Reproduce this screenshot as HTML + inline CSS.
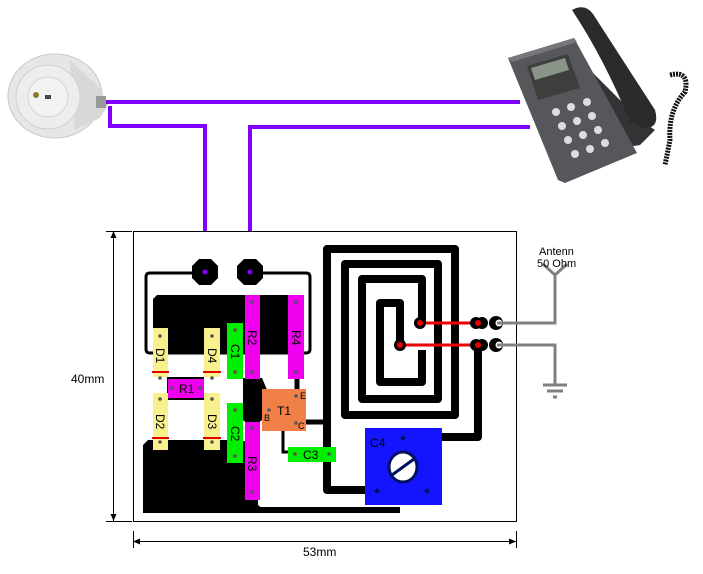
<!DOCTYPE html>
<html><head><meta charset="utf-8"><style>
html,body{margin:0;padding:0;background:#fff;}
svg{display:block;}
text{font-family:"Liberation Sans",sans-serif;}
</style></head><body>
<svg width="703" height="574" viewBox="0 0 703 574" xmlns="http://www.w3.org/2000/svg">
<rect width="703" height="574" fill="#fff"/>
<!-- socket -->
<ellipse cx="55" cy="96" rx="47" ry="42" fill="#e6e6e6" stroke="#c8c8c8"/>
<path d="M70 60 L100 88 L108 105 L100 118 L75 130 Z" fill="#d8d8d8"/>
<circle cx="48" cy="97" r="32" fill="#ededed" stroke="#d0d0d0"/>
<circle cx="48" cy="97" r="20" fill="#f2f2f2" stroke="#d4d4d4"/>
<circle cx="36" cy="95" r="3" fill="#887a30"/>
<rect x="45" y="95" width="6" height="4" fill="#444"/>
<rect x="96" y="96" width="10" height="12" fill="#999"/>
<!-- phone -->
<path d="M590 70 L640 120 L655 130 L640 145 L610 150 Z" fill="#333336"/>
<path d="M508 58 L574 38 L637 153 L565 183 L558 180 Z" fill="#56575b"/>
<path d="M508 58 L574 38 L577 42 L512 62 Z" fill="#77787c"/>
<path d="M527 66 L568 54 L580 88 L538 100 Z" fill="#3c3f3c"/>
<path d="M531 68 L565 58 L569 70 L535 80 Z" fill="#8a958a"/>
<path d="M572 10 Q585 3 593 14 L655 110 Q660 128 645 128 L630 122 Q605 60 572 10 Z" fill="#2b2b2e"/>
<path d="M670 75 Q690 70 685 92 Q668 110 670 140 L665 165" stroke="#111" stroke-width="5" fill="none" stroke-dasharray="2 1"/>
<g fill="#ddd"><circle cx="556" cy="112" r="4"/><circle cx="571" cy="107" r="4"/><circle cx="587" cy="102" r="4"/><circle cx="562" cy="126" r="4"/><circle cx="577" cy="121" r="4"/><circle cx="592" cy="116" r="4"/><circle cx="568" cy="140" r="4"/><circle cx="583" cy="135" r="4"/><circle cx="598" cy="130" r="4"/><circle cx="575" cy="154" r="4"/><circle cx="590" cy="149" r="4"/><circle cx="605" cy="143" r="4"/></g>
<!-- purple wires -->
<g stroke="#8000ff" stroke-width="4" fill="none">
<path d="M106 102 L520 102"/>
<path d="M110 106 L110 126 L205 126 L205 272"/>
<path d="M250 272 L250 127 L530 127"/>
</g>
<!-- dimensions -->
<g stroke="#000" stroke-width="1" fill="none">
<path d="M113.5 231 L113.5 521 M106 231.5 L132 231.5 M106 521.5 L132 521.5"/>
<path d="M133.5 531 L133.5 548 M516.5 531 L516.5 548 M133 541.5 L516 541.5"/>
</g>
<path d="M113.5 231 l-3 7 h6z M113.5 521 l-3 -7 h6z M133 541.5 l7 -3 v6z M516 541.5 l-7 -3 v6z" fill="#000"/>
<text x="71" y="383" font-size="12">40mm</text>
<text x="303" y="556" font-size="12">53mm</text>
<!-- board -->
<rect x="133.5" y="231.5" width="383" height="290" fill="#fff" stroke="#000"/>
<!-- thin loop -->
<path d="M205 273 L150 273 Q146 273 146 277 L146 349 Q146 353 150 353 L306 353 Q310 353 310 349 L310 277 Q310 273 306 273 L250 273" stroke="#000" stroke-width="3" fill="none"/>
<!-- big blocks -->
<path d="M157 295 L300 295 L300 352 L153 352 L153 299 Z" fill="#000"/>
<path d="M148 440 L240 440 L258 445 L258 505 L268 513 L143 513 L143 445 Z" fill="#000"/>
<path d="M240 510 L400 510" stroke="#000" stroke-width="6"/>
<path d="M167 377 L204 377 L204 400 L167 400 Z" fill="#000"/>
<path d="M243 378 L262 378 L268 392 L262 420 L252 428 L243 420 Z" fill="#000"/>
<path d="M297 379 L297 390" stroke="#000" stroke-width="5"/>
<path d="M283 431 L283 452 L290 452" stroke="#000" stroke-width="3" fill="none"/>
<path d="M305 422 L327 422" stroke="#000" stroke-width="5"/>
<!-- spiral -->
<g stroke="#000" stroke-width="8" fill="none" stroke-linejoin="round">
<path d="M365 490 L327 490 L327 249 L455 249 L455 415 L345 415 L345 264 L438 264 L438 399 L362 399 L362 279 L422 279 L422 323"/>
<path d="M400 345 L400 303 L380 303 L380 382 L422 382 L422 350"/>
<path d="M478 345 L478 437 L442 437"/>
</g>
<!-- C3 -->
<rect x="288" y="447" width="48" height="15" fill="#00ee00"/>
<text x="303" y="459" font-size="12">C3</text>
<!-- components -->
<g font-size="12">
<rect x="153" y="328" width="15" height="49" fill="#f8f08c"/>
<rect x="153" y="393" width="15" height="57" fill="#f8f08c"/>
<rect x="204" y="328" width="16" height="49" fill="#f8f08c"/>
<rect x="204" y="393" width="16" height="57" fill="#f8f08c"/>
<path d="M152 372 h17 M203 372 h18 M152 438 h17 M203 438 h18" stroke="#e00000" stroke-width="2"/>
<rect x="168" y="379" width="36" height="19" fill="#ee00ee"/>
<text x="179" y="393">R1</text>
<rect x="227" y="323" width="16" height="56" fill="#00ee00"/>
<rect x="227" y="403" width="16" height="60" fill="#00ee00"/>
<rect x="245" y="295" width="15" height="84" fill="#ee00ee"/>
<rect x="288" y="295" width="16" height="84" fill="#ee00ee"/>
<rect x="245" y="422" width="15" height="78" fill="#ee00ee"/>
<rect x="262" y="389" width="44" height="42" fill="#f08048"/>
<text x="277" y="415">T1</text>
<text x="300" y="399" font-size="9">E</text>
<text x="264" y="421" font-size="9">B</text>
<text x="298" y="429" font-size="9">C</text>
<g transform="rotate(90 160 355)"><text x="153" y="359">D1</text></g>
<g transform="rotate(90 160 421)"><text x="153" y="425">D2</text></g>
<g transform="rotate(90 212 355)"><text x="205" y="359">D4</text></g>
<g transform="rotate(90 212 421)"><text x="205" y="425">D3</text></g>
<g transform="rotate(90 235 351)"><text x="228" y="355">C1</text></g>
<g transform="rotate(90 235 433)"><text x="228" y="437">C2</text></g>
<g transform="rotate(90 252 337)"><text x="245" y="341">R2</text></g>
<g transform="rotate(90 296 337)"><text x="289" y="341">R4</text></g>
<g transform="rotate(90 252 463)"><text x="245" y="467">R3</text></g>
</g>
<g fill="#555">
<circle cx="160" cy="336" r="1.8"/><circle cx="160" cy="378" r="1.8"/><circle cx="160" cy="399" r="1.8"/><circle cx="160" cy="442" r="1.8"/>
<circle cx="212" cy="336" r="1.8"/><circle cx="212" cy="378" r="1.8"/><circle cx="212" cy="399" r="1.8"/><circle cx="212" cy="442" r="1.8"/>
<circle cx="235" cy="330" r="1.8"/><circle cx="235" cy="372" r="1.8"/><circle cx="235" cy="410" r="1.8"/><circle cx="235" cy="456" r="1.8"/>
<circle cx="252" cy="302" r="1.8"/><circle cx="252" cy="372" r="1.8"/><circle cx="252" cy="428" r="1.8"/><circle cx="252" cy="492" r="1.8"/>
<circle cx="296" cy="302" r="1.8"/><circle cx="296" cy="372" r="1.8"/>
<circle cx="172" cy="388" r="1.8"/><circle cx="200" cy="388" r="1.8"/>
<circle cx="295" cy="454" r="1.8"/><circle cx="329" cy="454" r="1.8"/>
<circle cx="296" cy="396" r="1.8"/><circle cx="296" cy="423" r="1.8"/><circle cx="269" cy="410" r="1.8"/>
</g>
<!-- pads -->
<g fill="#000">
<polygon points="199,259 211,259 218,266 218,278 211,285 199,285 192,278 192,266"/>
<polygon points="244,259 256,259 263,266 263,278 256,285 244,285 237,278 237,266"/>
</g>
<circle cx="205" cy="272" r="2.5" fill="#8000ff"/>
<circle cx="250" cy="272" r="2.5" fill="#8000ff"/>
<!-- C4 -->
<rect x="365" y="428" width="77" height="77" fill="#1414ff"/>
<text x="370" y="447" font-size="12" fill="#000">C4</text>
<ellipse cx="403" cy="467" rx="14" ry="15" fill="#fff" stroke="#001060" stroke-width="3"/>
<path d="M392 475 L414 459" stroke="#001060" stroke-width="3"/>
<g fill="#001060"><path d="M403 435 l3 3 -3 3 -3 -3z"/><path d="M377 488 l3 3 -3 3 -3 -3z"/><path d="M427 488 l3 3 -3 3 -3 -3z"/></g>
<!-- red lines & connectors -->
<g stroke="#ee0000" stroke-width="3"><path d="M420 323 L478 323"/><path d="M400 345 L478 345"/></g>
<g fill="#000"><circle cx="420" cy="323" r="6"/><circle cx="400" cy="345" r="6"/><circle cx="476" cy="323" r="6"/><circle cx="482" cy="323" r="6"/><circle cx="476" cy="345" r="6"/><circle cx="482" cy="345" r="6"/>
<circle cx="496" cy="323" r="7"/><circle cx="496" cy="345" r="7"/></g>
<g fill="#ee0000"><circle cx="420" cy="323" r="3"/><circle cx="400" cy="345" r="3"/><circle cx="478" cy="323" r="3"/><circle cx="478" cy="345" r="3"/></g>
<circle cx="499" cy="323" r="3.5" fill="#fff"/><circle cx="499" cy="345" r="3.5" fill="#fff"/>
<!-- antenna -->
<g stroke="#808080" stroke-width="3" fill="none">
<path d="M497 323 L555 323 L555 285"/>
<path d="M555 285 L555 275 L543 264 M555 275 L567 264"/>
<path d="M497 345 L555 345 L555 385"/>
<path d="M543 385 h24 M547 391 h16 M553 397 h4"/>
</g>
<text x="539" y="255" font-size="11">Antenn</text>
<text x="537" y="267" font-size="11">50 Ohm</text>
</svg>
</body></html>
